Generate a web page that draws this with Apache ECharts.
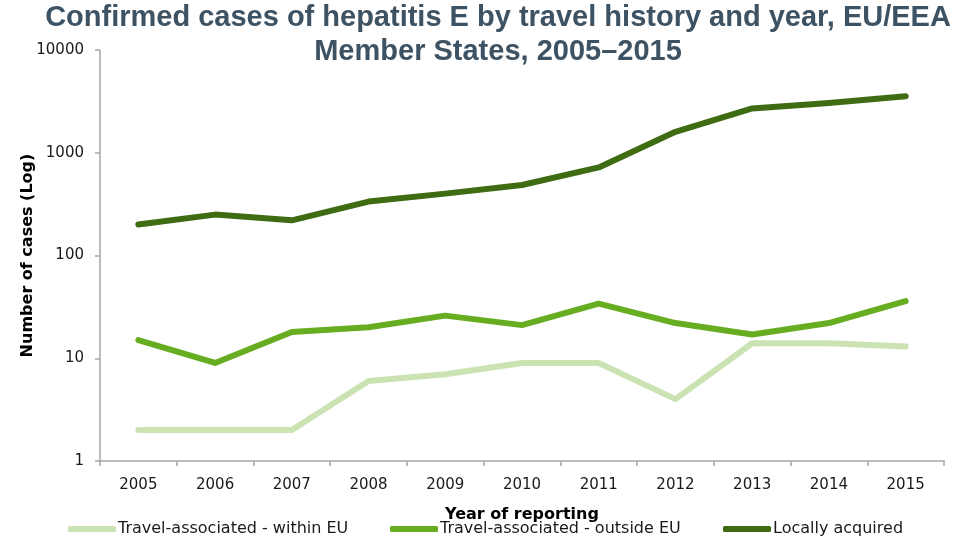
<!DOCTYPE html>
<html>
<head>
<meta charset="utf-8">
<script src="https://cdn.jsdelivr.net/npm/echarts@6/dist/echarts.min.js"></script>
<style>
  html, body { margin: 0; padding: 0; background: #fff; }
  #chart { width: 959px; height: 540px; }
</style>
</head>
<body>
<div id="chart"></div>
<script>
// Confirmed hepatitis E cases by travel history, EU/EEA, 2005–2015
const years = ['2005', '2006', '2007', '2008', '2009', '2010', '2011', '2012', '2013', '2014', '2015'];
const withinEU = [2, 2, 2, 6, 7, 9, 9, 4, 14, 14, 13];
const outsideEU = [15, 9, 18, 20, 26, 21, 34, 22, 17, 22, 36];
const locallyAcquired = [200, 250, 220, 335, 400, 485, 720, 1600, 2700, 3050, 3550];
const yTicks = [1, 10, 100, 1000, 10000];

const seriesNames = ['Travel-associated - within EU', 'Travel-associated - outside EU', 'Locally acquired'];
const seriesColors = ['#cbe2b3', '#67ad21', '#3f6b12'];
const seriesData = [withinEU, outsideEU, locallyAcquired];
const legendLefts = [68, 390, 723];

const chart = echarts.init(document.getElementById('chart'));

const labelFont = 'DejaVu Sans, Verdana, sans-serif';

chart.setOption({
  animation: false,
  title: {
    text: 'Confirmed cases of hepatitis E by travel history and year, EU/EEA\nMember States, 2005–2015',
    left: 498,
    textAlign: 'center',
    top: 1,
    padding: 0,
    textStyle: {
      fontFamily: 'Liberation Sans, Arial, sans-serif',
      fontWeight: 'bold',
      fontSize: 29,
      lineHeight: 34,
      color: '#3d5263'
    }
  },
  // one legend block per series so each entry sits at its own position
  legend: seriesNames.map((name, i) => ({
    top: 521,
    left: legendLefts[i],
    padding: 0,
    itemWidth: 48,
    itemHeight: 6,
    icon: 'roundRect',
    textStyle: {
      fontFamily: labelFont,
      fontSize: 16,
      color: '#1a1a1a',
      padding: [0, 0, 0, -3]
    },
    data: [name]
  })),
  grid: {
    left: 100,
    right: 15,
    top: 50,
    bottom: 79
  },
  xAxis: {
    type: 'category',
    data: years,
    boundaryGap: true,
    name: 'Year of reporting',
    nameLocation: 'middle',
    nameGap: 46,
    nameMoveOverlap: false,
    nameTextStyle: {
      fontFamily: labelFont,
      fontWeight: 'bold',
      fontSize: 16,
      color: '#000'
    },
    axisLine: { lineStyle: { color: '#a6a6a6', width: 1.5 } },
    axisTick: { show: true, length: 5, lineStyle: { color: '#a6a6a6', width: 1.5 } },
    axisLabel: {
      margin: 17,
      fontFamily: labelFont,
      fontSize: 15,
      color: '#1a1a1a'
    }
  },
  yAxis: {
    type: 'log',
    logBase: 10,
    min: yTicks[0],
    max: yTicks[yTicks.length - 1],
    name: 'Number of cases (Log)',
    nameLocation: 'middle',
    nameGap: 64,
    nameMoveOverlap: false,
    nameTextStyle: {
      fontFamily: labelFont,
      fontWeight: 'bold',
      fontSize: 16,
      color: '#000'
    },
    splitLine: { show: false },
    axisLine: { show: true, lineStyle: { color: '#a6a6a6', width: 1.5 } },
    axisTick: { show: true, length: 5, lineStyle: { color: '#a6a6a6', width: 1.5 } },
    axisLabel: {
      margin: 16,
      fontFamily: labelFont,
      fontSize: 15,
      color: '#1a1a1a',
      formatter: (v) => String(v)
    }
  },
  series: seriesNames.map((name, i) => ({
    name: name,
    type: 'line',
    data: seriesData[i],
    symbol: 'none',
    color: seriesColors[i],
    lineStyle: { width: 6, color: seriesColors[i], cap: 'round', join: 'round' },
    z: 2 + i
  }))
});
</script>
</body>
</html>
